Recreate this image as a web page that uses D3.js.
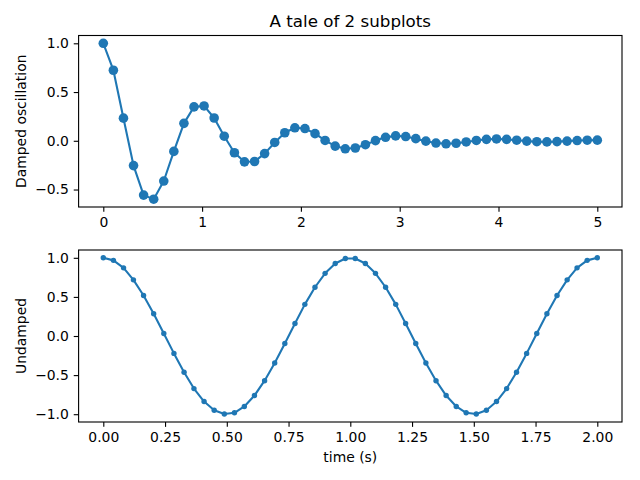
<!DOCTYPE html>
<html><head><meta charset="utf-8">
<script src="https://cdn.jsdelivr.net/npm/d3@7"></script>
<style>body{margin:0;background:#fff}svg{display:block}text{font-family:"DejaVu Sans",sans-serif}</style>
</head><body><svg id="c" width="640" height="480"></svg>
<script>
const title = "A tale of 2 subplots";
const x1 = [0,0.102,0.204,0.306,0.408,0.510,0.612,0.714,0.816,0.918,1.020,1.122,1.224,1.327,1.429,1.531,1.633,1.735,1.837,1.939,2.041,2.143,2.245,2.347,2.449,2.551,2.653,2.755,2.857,2.959,3.061,3.163,3.265,3.367,3.469,3.571,3.673,3.776,3.878,3.980,4.082,4.184,4.286,4.388,4.490,4.592,4.694,4.796,4.898,5.0];
const y1 = [1.0,0.7237,0.2320,-0.2543,-0.5572,-0.5992,-0.4128,-0.1089,0.1789,0.3478,0.3575,0.2338,0.0469,-0.1228,-0.2159,-0.2124,-0.1314,-0.0170,0.0826,0.1334,0.1257,0.0732,0.0034,-0.0547,-0.0820,-0.0741,-0.0403,0.0020,0.0358,0.0502,0.0434,0.0219,-0.0037,-0.0232,-0.0306,-0.0253,-0.0118,0.0037,0.0149,0.0186,0.0147,0.0062,-0.0031,-0.0095,-0.0112,-0.0085,-0.0032,0.0024,0.0060,0.0067];
const x2 = [0,0.041,0.082,0.122,0.163,0.204,0.245,0.286,0.327,0.367,0.408,0.449,0.490,0.531,0.571,0.612,0.653,0.694,0.735,0.776,0.816,0.857,0.898,0.939,0.980,1.020,1.061,1.102,1.143,1.184,1.224,1.265,1.306,1.347,1.388,1.429,1.469,1.510,1.551,1.592,1.633,1.673,1.714,1.755,1.796,1.837,1.878,1.918,1.959,2.0];
const y2 = [1.0,0.9673,0.8713,0.7181,0.5184,0.2845,0.0321,-0.2225,-0.4626,-0.6725,-0.8381,-0.9491,-0.9980,-0.9816,-0.9010,-0.7614,-0.5714,-0.3454,-0.0960,0.1596,0.4046,0.6235,0.8014,0.9269,0.9918,0.9918,0.9269,0.8014,0.6235,0.4046,0.1596,-0.0960,-0.3454,-0.5714,-0.7614,-0.9010,-0.9816,-0.9980,-0.9491,-0.8381,-0.6725,-0.4626,-0.2225,0.0321,0.2845,0.5184,0.7181,0.8713,0.9673,1.0];
const xTicks1 = [0,1,2,3,4,5];
const yTicks1 = [-0.5,0.0,0.5,1.0];
const xTicks2 = [0,0.25,0.5,0.75,1.0,1.25,1.5,1.75,2.0];
const yTicks2 = [-1.0,-0.5,0.0,0.5,1.0];
const ylabel1 = "Damped oscillation", ylabel2 = "Undamped", xlabel2 = "time (s)";

const svg = d3.select("#c");
const color = "#1f77b4";
const fmt1 = d => d3.format(".1f")(d).replace("-", "\u2212");
const fmt2 = d => d3.format(".2f")(d).replace("-", "\u2212");

function panel(box, xs, ys, xd, yd, xt, yt, xf, yf, r, ylab, xlab) {
  const x = d3.scaleLinear().domain(xd).range([box.l, box.r]);
  const y = d3.scaleLinear().domain(yd).range([box.b, box.t]);
  const g = svg.append("g");
  const data = xs.map((v,i)=>[v, ys[i]]);
  g.append("path").datum(data).attr("fill","none").attr("stroke",color).attr("stroke-width",2.08)
    .attr("stroke-linejoin","round").attr("stroke-linecap","square")
    .attr("d", d3.line().x(d=>x(d[0])).y(d=>y(d[1])));
  g.selectAll("circle").data(data).join("circle").attr("cx",d=>x(d[0])).attr("cy",d=>y(d[1]))
    .attr("r", r).attr("fill", color);
  const xa = d3.axisBottom(x).tickValues(xt).tickFormat(xf).tickSize(4.86).tickPadding(4.86);
  const ya = d3.axisLeft(y).tickValues(yt).tickFormat(yf).tickSize(4.86).tickPadding(4.86);
  const gx = svg.append("g").attr("transform",`translate(0,${box.b})`).call(xa);
  const gy = svg.append("g").attr("transform",`translate(${box.l},0)`).call(ya);
  [gx, gy].forEach(a => {
    a.select(".domain").remove();
    a.selectAll("line").attr("stroke","#000").attr("stroke-width",1.11);
    a.selectAll("text").attr("font-size",13.9).attr("fill","#000").attr("font-family","DejaVu Sans");
  });
  svg.append("rect").attr("x",box.l).attr("y",box.t).attr("width",box.r-box.l).attr("height",box.b-box.t)
    .attr("fill","none").attr("stroke","#000").attr("stroke-width",1.11);
  svg.append("text").attr("transform",`translate(26,${(box.t+box.b)/2}) rotate(-90)`)
    .attr("text-anchor","middle").attr("font-size",13.9).text(ylab);
  if (xlab) svg.append("text").attr("x",(box.l+box.r)/2).attr("y",box.b+40)
    .attr("text-anchor","middle").attr("font-size",13.9).text(xlab);
}

const b1 = {l:78.6, r:622, t:35.5, b:207};
const b2 = {l:78.6, r:622, t:250, b:422};
panel(b1, x1, y1, [-0.25,5.25], [-0.6792,1.0800], xTicks1, yTicks1, d3.format("d"), fmt1, 4.8, ylabel1, null);
panel(b2, x2, y2, [-0.1,2.1], [-1.0998,1.0999], xTicks2, yTicks2, fmt2, fmt1, 2.7, ylabel2, xlabel2);
svg.append("text").attr("x",(b1.l+b1.r)/2).attr("y",27).attr("text-anchor","middle").attr("font-size",16.7).text(title);
</script></body></html>
